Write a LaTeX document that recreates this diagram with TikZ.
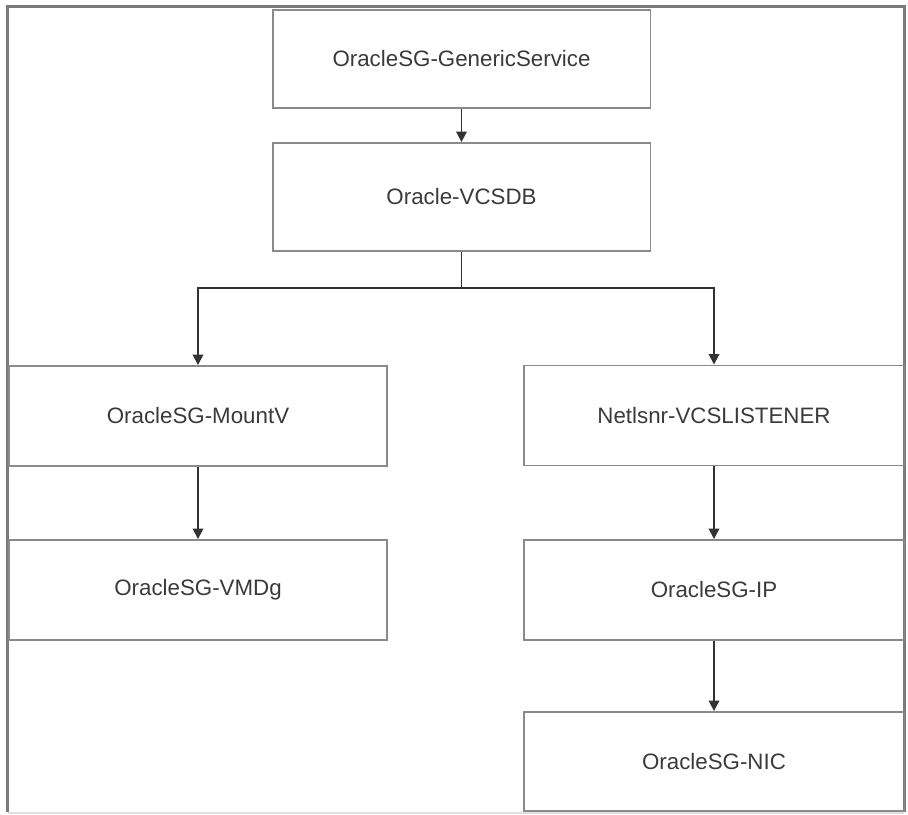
\documentclass[tikz,border=0pt]{standalone}
\usepackage{fontspec}
\setmainfont{Liberation Sans}
\usetikzlibrary{arrows.meta}
\definecolor{boxgray}{HTML}{8A8A8A}
\definecolor{framegray}{HTML}{7A7A7A}
\definecolor{linegray}{HTML}{333333}
\definecolor{textgray}{HTML}{3A3A3A}
\begin{document}
\begin{tikzpicture}[x=0.02cm,y=-0.02cm,font=\fontsize{12.7}{15}\selectfont,
  box/.style={draw=boxgray, line width=1.1pt, minimum width=7.56cm, minimum height=2cm, inner sep=0pt, text=textgray},
  link/.style={draw=linegray, line width=1.1pt, -{Triangle[width=6pt,length=6pt]}}]
\useasboundingbox (0,0) rectangle (908,814);
\draw [framegray, line width=0.06cm] (7.5,812) -- (7.5,6.5) -- (904,6.5) -- (904,812);
\draw [black!12, line width=0.04cm] (7.5,812.5) -- (904,812.5);

\node[box,minimum height=1.96cm] (gen) at (461.5,59) {OracleSG-GenericService};
\node[box,minimum height=2.16cm] (vcsdb) at (461.5,197) {Oracle-VCSDB};

\node[box] (mountv) at (198,416) {OracleSG-MountV};
\node[box] (vmdg) at (198,590) {OracleSG-VMDg};

\node[box,minimum width=7.62cm] (netlsnr) at (714,415.5) {Netlsnr-VCSLISTENER};
\node[box,minimum width=7.62cm] (ip) at (714,590) {OracleSG-IP};
\node[box,minimum width=7.62cm,minimum height=1.98cm] (nic) at (714,761.5) {OracleSG-NIC};

\draw [link] (gen) -- (vcsdb);
\draw [link] (vcsdb.south) -- ++(0,36) coordinate (split) -| (mountv.north);
\draw [link] (split) -| (netlsnr.north);
\draw [link] (mountv) -- (vmdg);
\draw [link] (netlsnr) -- (ip);
\draw [link] (ip) -- (nic);
\end{tikzpicture}
\end{document}
